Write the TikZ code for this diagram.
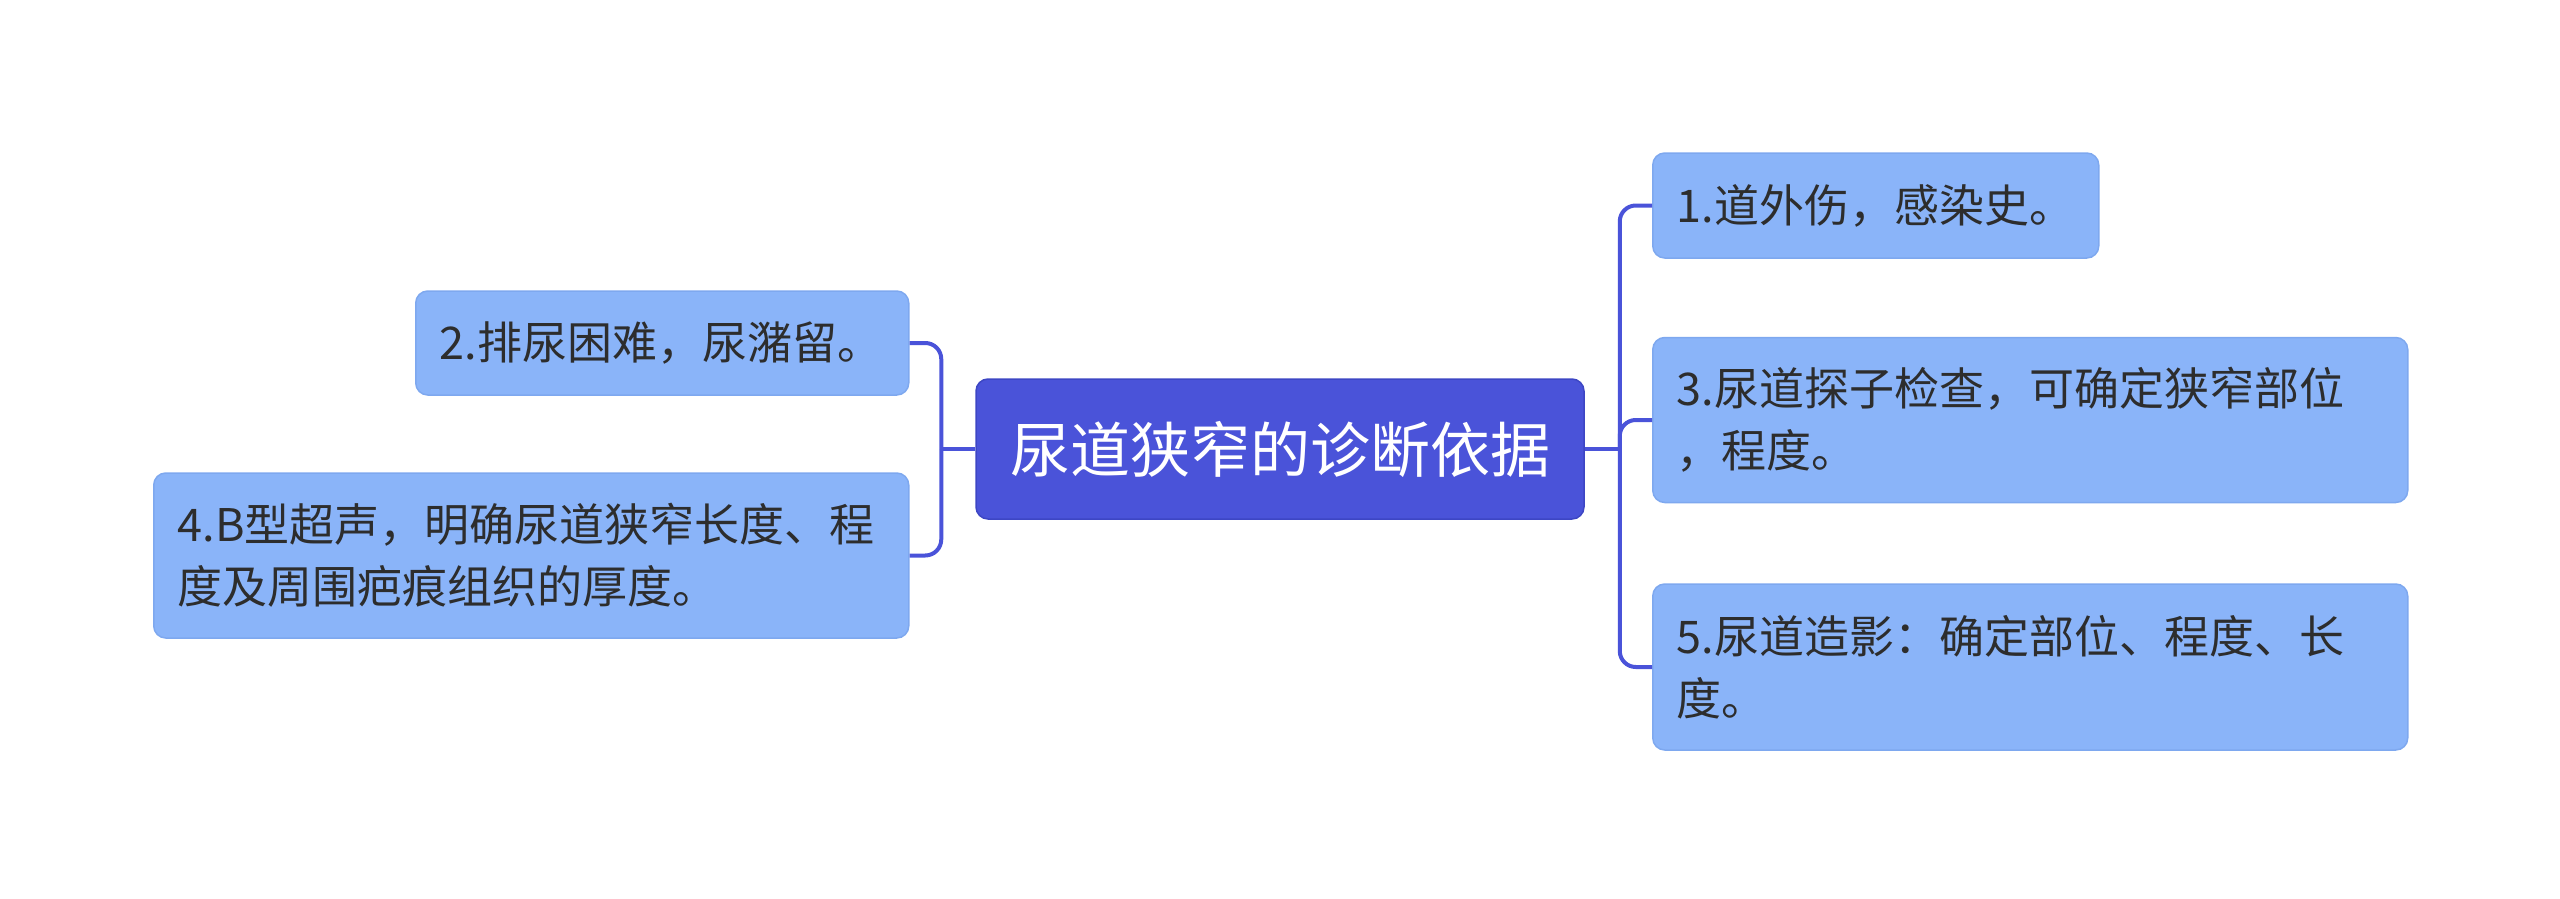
\documentclass[tikz,border=0pt]{standalone}
\usepackage{fontspec}
\setmainfont{Noto Sans CJK SC}
\newfontfamily\cjkfont{Noto Sans CJK SC}
\definecolor{mainblue}{HTML}{4A53D9}
\definecolor{mainborder}{HTML}{3D46C4}
\definecolor{subfill}{HTML}{8AB4F9}
\definecolor{subborder}{HTML}{7EA8EF}
\definecolor{txtdark}{HTML}{2D2D2D}
\begin{document}
\begin{tikzpicture}[x=1pt,y=-1pt,
  rootbox/.style={draw=mainborder,fill=mainblue,line width=1.5pt,rounded corners=12pt,
    minimum width=608pt,minimum height=140pt,inner sep=0pt,text=white,
    font=\cjkfont\fontsize{60pt}{72pt}\selectfont},
  subbox/.style={draw=subborder,fill=subfill,line width=1.5pt,rounded corners=12pt,
    inner xsep=24pt,inner ysep=0pt,align=left,text=txtdark,anchor=west,
    font=\cjkfont\fontsize{45pt}{62pt}\selectfont},
  conn/.style={draw=mainblue,line width=4pt,rounded corners=16pt}]
\useasboundingbox (0,0) rectangle (2560,899);
\node[rootbox] (root) at (1280,449) {尿道狭窄的诊断依据};
\node[subbox,text width=398pt,minimum height=105pt] (n1) at (1652,205.5) {1.道外伤，感染史。};
\node[subbox,text width=707pt,minimum height=165pt] (n3) at (1652,420) {3.尿道探子检查，可确定狭窄部位\\，程度。};
\node[subbox,text width=707pt,minimum height=166pt] (n5) at (1652,667) {5.尿道造影：确定部位、程度、长\\度。};
\node[subbox,text width=445pt,minimum height=104pt] (n2) at (415,343) {2.排尿困难，尿潴留。};
\node[subbox,text width=707pt,minimum height=165pt] (n4) at (153,555.5) {4.B型超声，明确尿道狭窄长度、程\\度及周围疤痕组织的厚度。};
\draw[conn] (root.east) -- ++(35,0) coordinate (rj);
\draw[conn] (root.west) -- ++(-34,0) coordinate (lj);
\draw[conn] (rj) |- (n1.west);
\draw[conn] (rj) |- (n3.west);
\draw[conn] (rj) |- (n5.west);
\draw[conn] (lj) |- (n2.east);
\draw[conn] (lj) |- (n4.east);
\end{tikzpicture}
\end{document}
